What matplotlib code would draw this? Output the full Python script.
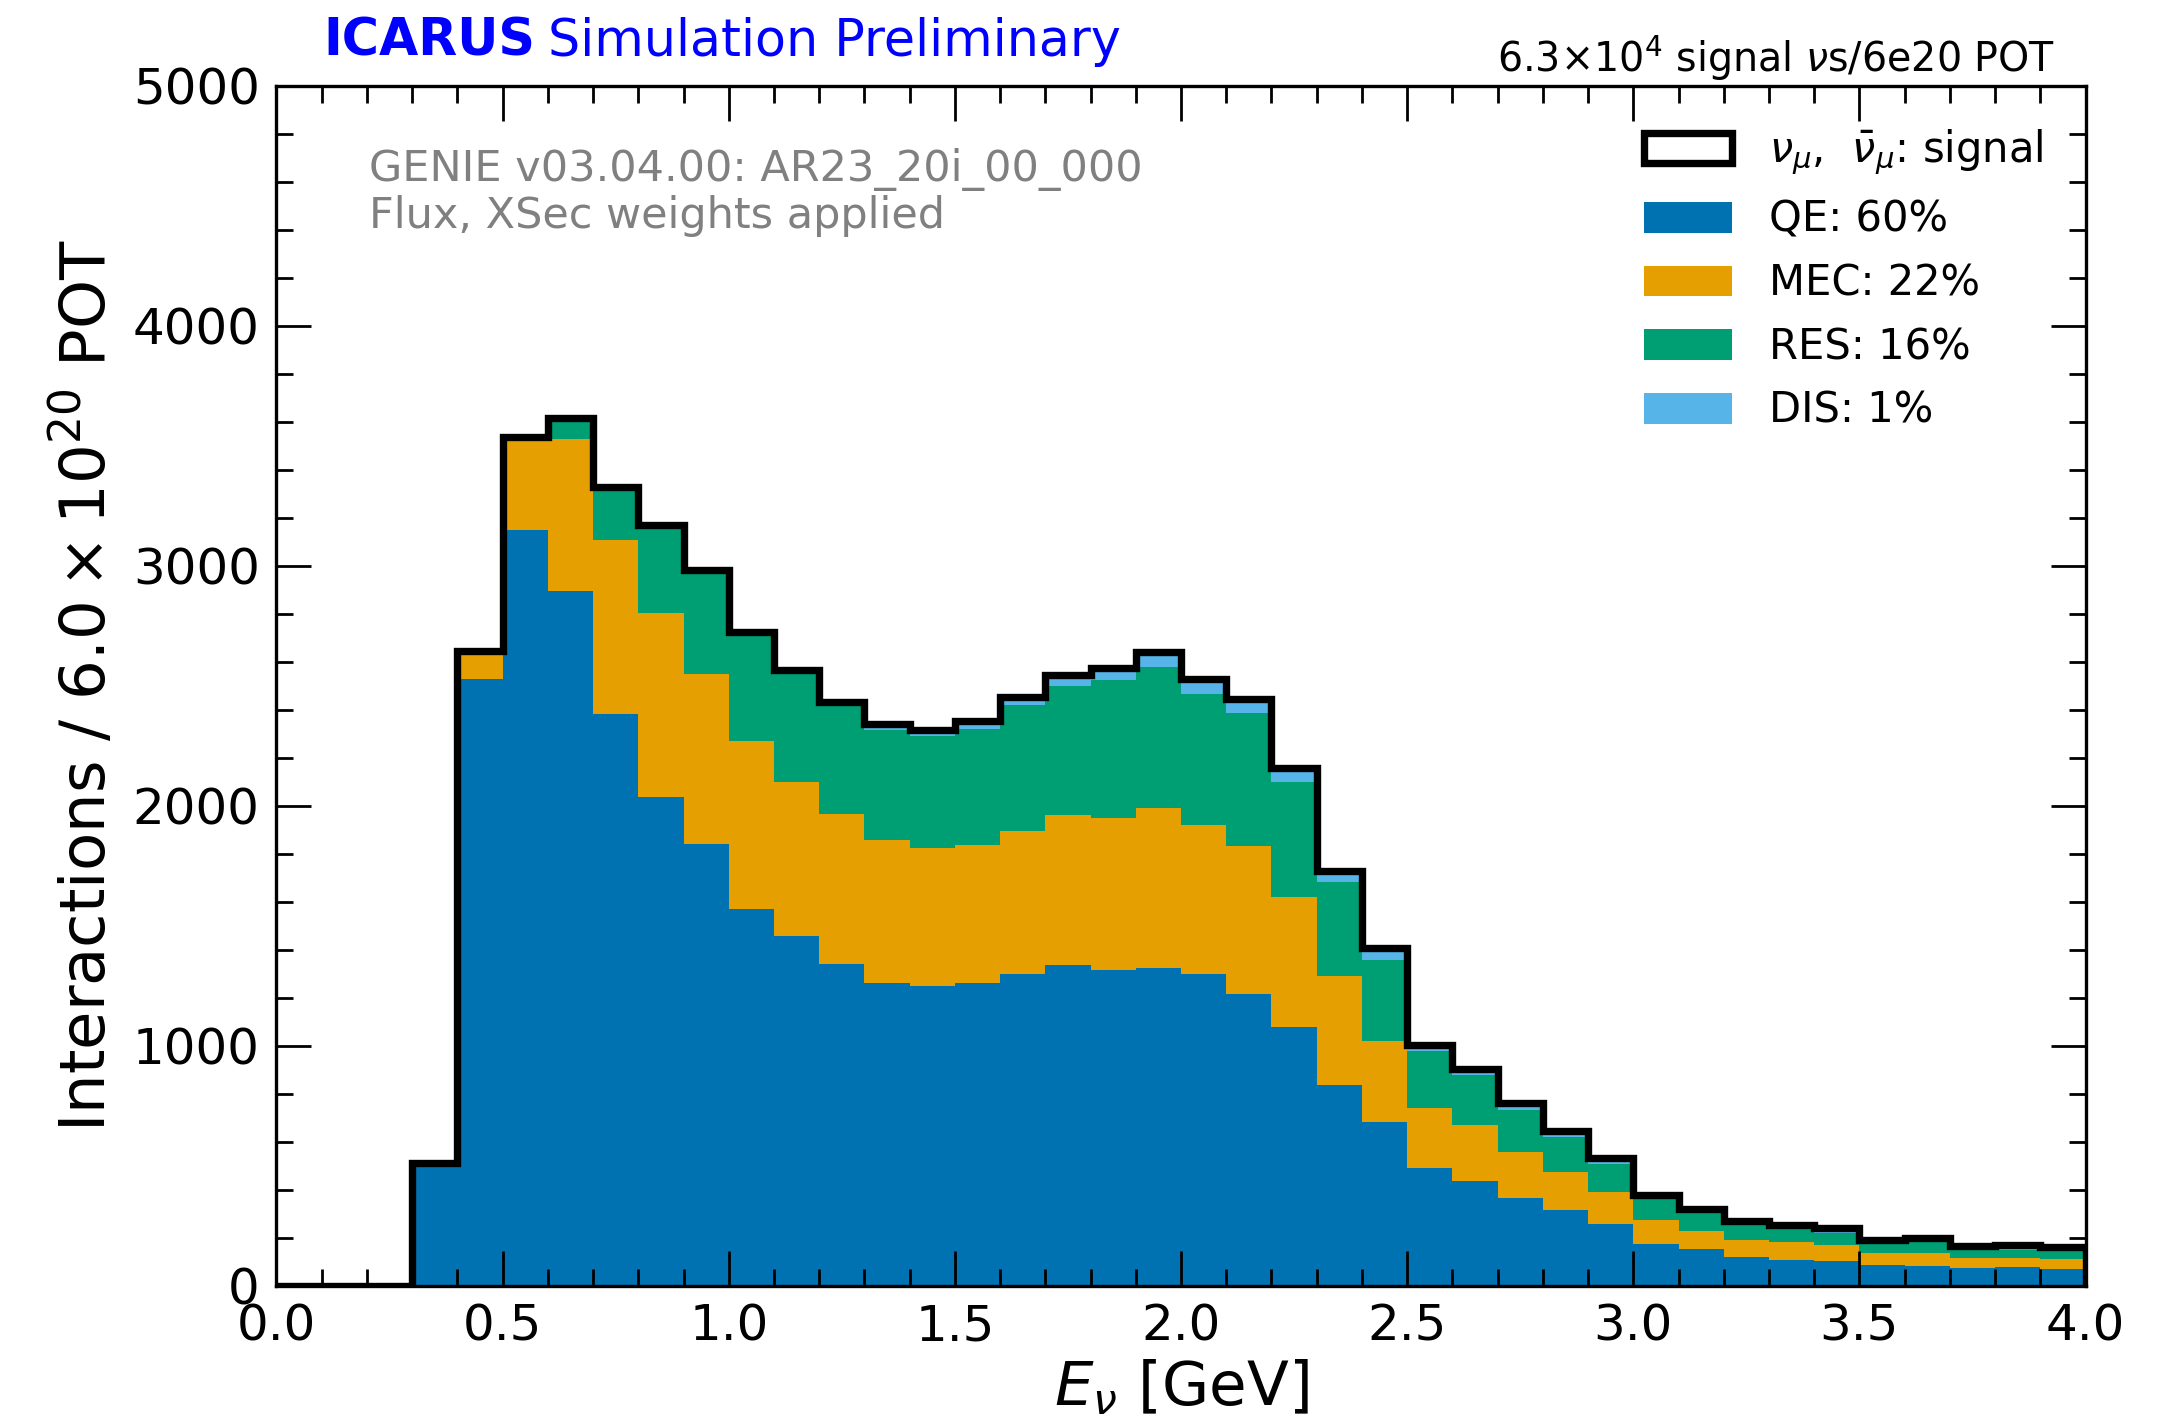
import numpy as np
import matplotlib
matplotlib.use("Agg")
import matplotlib.pyplot as plt
from matplotlib.patches import Patch
from matplotlib.ticker import MultipleLocator

# neutrino energy bins [GeV]
bin_edges = np.round(np.arange(0.0, 4.01, 0.1), 2)

# interactions per bin, split by interaction mode
qe = [0, 0, 0, 505, 2527, 3148, 2896, 2382, 2035, 1840,
      1568, 1458, 1340, 1260, 1248, 1260, 1299, 1336, 1314, 1324,
      1300, 1217, 1079, 837, 680, 490, 434, 363, 317, 255,
      175, 152, 118, 108, 102, 85, 81, 72, 76, 71]
mec = [0, 0, 0, 4, 118, 389, 631, 727, 768, 709,
       702, 641, 624, 597, 577, 575, 595, 626, 633, 667,
       621, 613, 542, 453, 340, 250, 236, 192, 156, 133,
       100, 77, 70, 73, 66, 50, 53, 42, 37, 40]
res = [0, 0, 0, 0, 0, 0, 91, 220, 362, 430,
       448, 453, 453, 457, 467, 484, 527, 535, 578, 586,
       546, 555, 476, 390, 338, 238, 206, 178, 146, 117,
       84, 74, 64, 55, 49, 40, 47, 33, 34, 32]
dis = [0, 0, 0, 0, 0, 0, 0, 0, 3, 3,
       5, 12, 17, 27, 22, 34, 32, 46, 50, 64,
       60, 58, 60, 48, 48, 24, 26, 28, 24, 26,
       17, 15, 16, 17, 21, 16, 19, 17, 20, 18]

modes = ["QE", "MEC", "RES", "DIS"]
mode_frac = [60, 22, 16, 1]
mode_colors = ["#0072B2", "#E69F00", "#009E73", "#56B4E9"]

centers = 0.5 * (bin_edges[:-1] + bin_edges[1:])
stack = [qe, mec, res, dis]
total = np.sum(stack, axis=0)

plt.rcParams["font.family"] = "DejaVu Sans"
plt.rcParams["mathtext.fontset"] = "dejavusans"

fig = plt.figure(figsize=(21.77, 14.18), dpi=100)
ax = fig.add_axes([0.127, 0.0934, 0.831, 0.846])

ax.hist([centers] * 4, bins=bin_edges, weights=stack, stacked=True,
        histtype="stepfilled", color=mode_colors, linewidth=0)
ax.hist(centers, bins=bin_edges, weights=total, histtype="step",
        color="black", linewidth=5.3)

ax.set_xlim(0, 4)
ax.set_ylim(0, 5000)
ax.xaxis.set_major_locator(MultipleLocator(0.5))
ax.xaxis.set_minor_locator(MultipleLocator(0.1))
ax.yaxis.set_major_locator(MultipleLocator(1000))
ax.yaxis.set_minor_locator(MultipleLocator(200))
ax.tick_params(which="both", direction="in", top=True, right=True, width=2)
ax.tick_params(which="major", length=25, labelsize=36, pad=12)
ax.tick_params(which="minor", length=12)
for s in ax.spines.values():
    s.set_linewidth(2.4)

ax.set_xlabel(r"$E_\nu$ [GeV]", fontsize=44, labelpad=6)
ax.set_ylabel(r"Interactions / $6.0\times10^{20}$ POT", fontsize=45,
              labelpad=10)

# experiment label and event count
t1 = ax.text(0.026, 1.025, "ICARUS", transform=ax.transAxes, fontsize=36.5,
             fontweight="bold", color="blue", va="baseline")
ax.annotate("Simulation Preliminary", xy=(1, 0), xycoords=t1,
            xytext=(9, 0), textcoords="offset points",
            fontsize=36.5, color="blue", va="bottom")
ax.text(0.983, 1.012, r"6.3$\times$10$^4$ signal $\nu$s/6e20 POT",
        transform=ax.transAxes, fontsize=28.5, ha="right", va="baseline")

ax.text(0.051, 0.948, "GENIE v03.04.00: AR23_20i_00_000\nFlux, XSec weights applied",
        transform=ax.transAxes, fontsize=31, color="gray", va="top",
        linespacing=1.12)

handles = [Patch(facecolor="none", edgecolor="black", linewidth=5.3,
                 label=r"$\nu_\mu$,  $\bar{\nu}_\mu$: signal")]
for m, f, c in zip(modes, mode_frac, mode_colors):
    handles.append(Patch(facecolor=c, edgecolor="none", label=f"{m}: {f}%"))
ax.legend(handles=handles, loc="upper right", fontsize=30, frameon=False,
          handlelength=2.1, handleheight=0.75, labelspacing=0.52,
          handletextpad=0.9, borderaxespad=0.5, borderpad=0.5)

fig.savefig("out.png", dpi=100)
